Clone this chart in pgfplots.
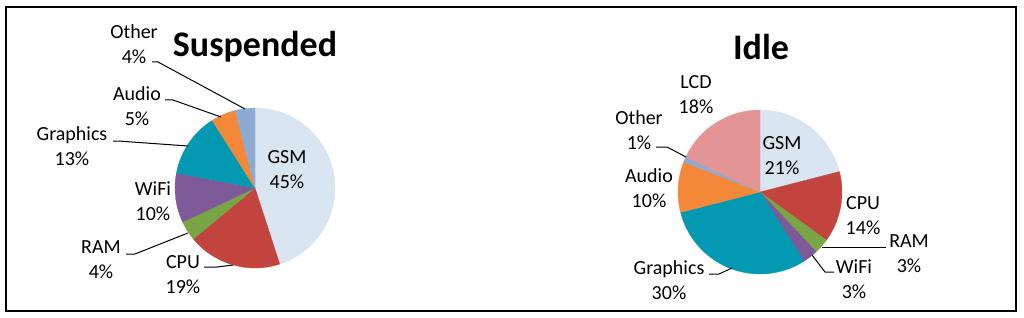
\documentclass[border=0pt]{standalone}
\usepackage{pgfplots}
\usepackage{pgfplotstable}
\pgfplotsset{compat=1.18}
\usepackage{fontspec}
\setmainfont{Carlito}

\definecolor{cGSM}{HTML}{D9E5F1}
\definecolor{cCPU}{HTML}{C3433F}
\definecolor{cRAM}{HTML}{7AA544}
\definecolor{cWiFi}{HTML}{7E5A98}
\definecolor{cGraphics}{HTML}{0399B2}
\definecolor{cAudio}{HTML}{F28838}
\definecolor{cOther}{HTML}{8DAAD3}
\definecolor{cLCD}{HTML}{E39494}

\tikzset{
  lbl/.style={font=\fontsize{20}{25}\selectfont, align=center, inner sep=0pt},
  ttl/.style={font=\fontsize{36}{40}\selectfont\bfseries, inner sep=0pt},
}

\pgfplotstableread{
name value col
GSM 45 cGSM
CPU 19 cCPU
RAM 4 cRAM
WiFi 10 cWiFi
Graphics 13 cGraphics
Audio 5 cAudio
Other 4 cOther
}\suspended

\pgfplotstableread{
name value col
GSM 21 cGSM
CPU 14 cCPU
RAM 3 cRAM
WiFi 3 cWiFi
Graphics 30 cGraphics
Audio 10 cAudio
Other 1 cOther
LCD 18 cLCD
}\idle

% #1 table, #2 cx, #3 cy, #4 radius (pt)
\newcommand\drawpie[4]{%
  \pgfplotstablegetrowsof{#1}%
  \pgfmathtruncatemacro\plast{\pgfplotsretval-1}%
  \def\pcum{0}%
  \pgfplotsforeachungrouped \pidx in {0,...,\plast}{%
    \pgfplotstablegetelem{\pidx}{value}\of{#1}\let\pv=\pgfplotsretval
    \pgfplotstablegetelem{\pidx}{col}\of{#1}\let\pc=\pgfplotsretval
    \pgfmathsetmacro\pA{90-3.6*\pcum}%
    \pgfmathsetmacro\pB{90-3.6*(\pcum+\pv)}%
    \edef\ptemp{\noexpand\fill[\pc, draw=\pc, line width=0.3pt] (axis cs:#2,#3) -- ++(\pA:#4pt) arc[start angle=\pA, end angle=\pB, radius=#4pt] -- cycle;}%
    \ptemp
    \pgfmathsetmacro\pcum{\pcum+\pv}%
  }%
}

\begin{document}
\begin{tikzpicture}
\begin{axis}[
  width=1024pt, height=318pt, scale only axis,
  xmin=0, xmax=1024, ymin=0, ymax=318,
  y dir=reverse,
  hide axis, clip=false,
]
\path (axis cs:0,0) rectangle (axis cs:1024,318);
\draw[line width=2pt] (axis cs:6,7) rectangle (axis cs:1016,311);

\drawpie{\suspended}{255}{188}{80}
\drawpie{\idle}{760}{192}{82}

% titles
\node[ttl] at (axis cs:255,47) {Suspended};
\node[ttl] at (axis cs:761,47) {Idle};

% Suspended labels
\node[lbl] at (axis cs:134,44) {Other\\4\%};
\node[lbl] at (axis cs:137,106) {Audio\\5\%};
\node[lbl] at (axis cs:72,146) {Graphics\\13\%};
\node[lbl] at (axis cs:153,201) {WiFi\\10\%};
\node[lbl] at (axis cs:101,260) {RAM\\4\%};
\node[lbl] at (axis cs:183,275) {CPU\\19\%};
\node[lbl] at (axis cs:287,170) {GSM\\45\%};

\draw[line width=1pt] (axis cs:152,62) -- (axis cs:158,62) -- (axis cs:245,109);
\draw[line width=1pt] (axis cs:165,100) -- (axis cs:173,100) -- (axis cs:221,117);
\draw[line width=1pt] (axis cs:113,141) -- (axis cs:118,141) -- (axis cs:188,146);
\draw[line width=1pt] (axis cs:126,254) -- (axis cs:135,254) -- (axis cs:188,233);
\draw[line width=1pt] (axis cs:204,267) -- (axis cs:217,267) -- (axis cs:233,265);

% Idle labels
\node[lbl] at (axis cs:696,95) {LCD\\18\%};
\node[lbl] at (axis cs:639,130) {Other\\1\%};
\node[lbl] at (axis cs:649,188) {Audio\\10\%};
\node[lbl] at (axis cs:782,156) {GSM\\21\%};
\node[lbl] at (axis cs:863,216) {CPU\\14\%};
\node[lbl] at (axis cs:909,254) {RAM\\3\%};
\node[lbl] at (axis cs:854,279) {WiFi\\3\%};
\node[lbl] at (axis cs:669,280) {Graphics\\30\%};

\draw[line width=1pt] (axis cs:656,147) -- (axis cs:667,147) -- (axis cs:686,157);
\draw[line width=1pt] (axis cs:822,247) -- (axis cs:886,247);
\draw[line width=1pt] (axis cs:812,255) -- (axis cs:825,272) -- (axis cs:834,272);
\draw[line width=1pt] (axis cs:709,274) -- (axis cs:719,274) -- (axis cs:732,268);
\end{axis}
\end{tikzpicture}
\end{document}
